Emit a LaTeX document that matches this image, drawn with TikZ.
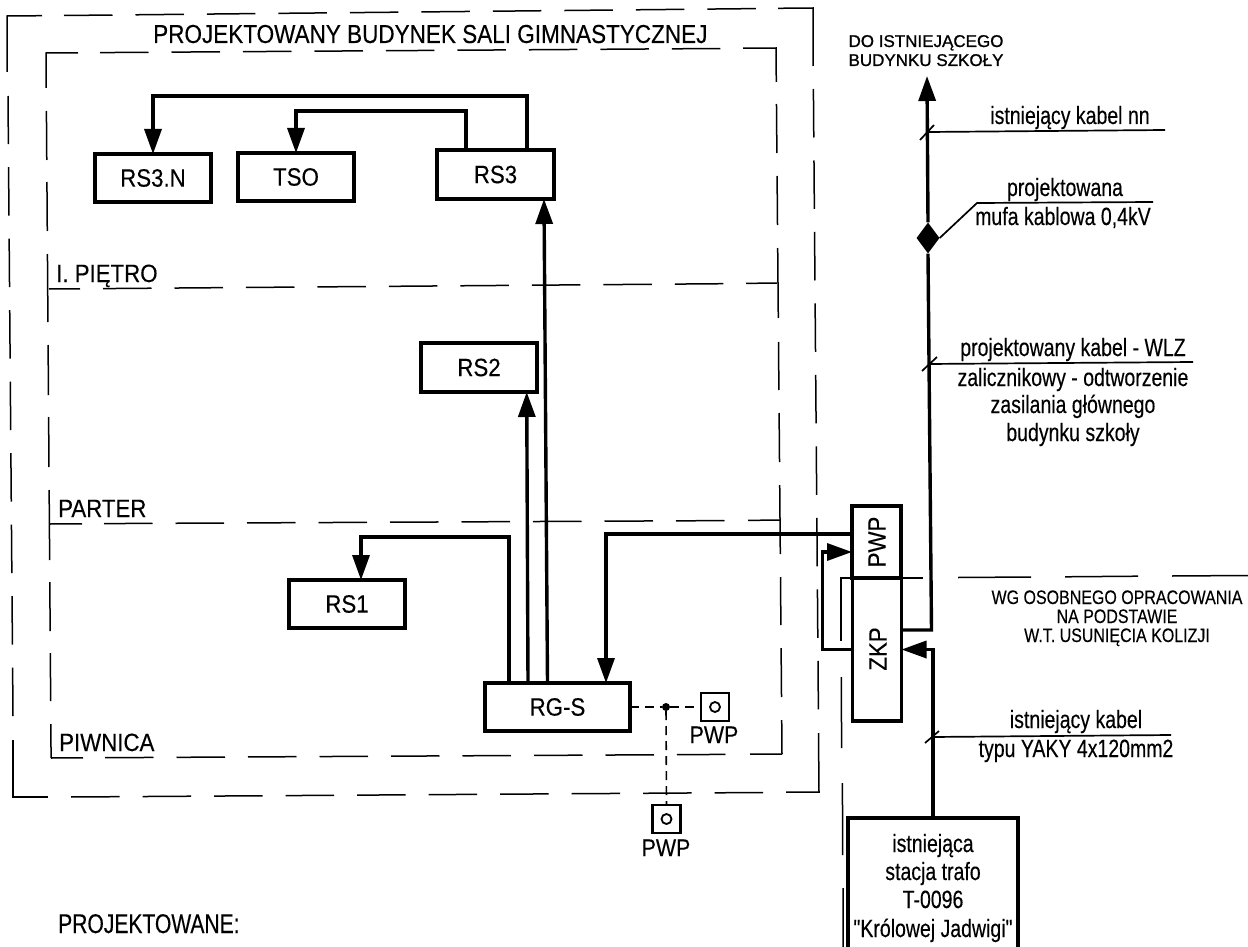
\documentclass[tikz,border=0pt]{standalone}
\usepackage{fontspec}
\usetikzlibrary{arrows.meta,shapes.geometric}
\newfontfamily\cad[FakeStretch=0.89,FakeBold=0.25]{Liberation Sans}
\newfontfamily\cadT[FakeStretch=0.866,FakeBold=0.25]{Liberation Sans}
\newfontfamily\cadL[FakeStretch=0.78,FakeBold=0.25]{Liberation Sans}
\newfontfamily\cadS[FakeStretch=0.82,FakeBold=0.25]{Liberation Sans}
\newfontfamily\cadD[FakeBold=1.0]{Liberation Sans}
\tikzset{
  x=1pt,y=-1pt,
  boxn/.style={draw,line width=3.1pt,rectangle,inner sep=0pt,outer sep=0pt,font=\cad\fontsize{25}{25}\selectfont},
  wire/.style={line width=3.4pt,line join=miter},
  tipa/.style={-{Triangle[length=25pt,width=17pt]}},
  fr/.style={line width=1.5pt},
  frd/.style={line width=1.5pt,dash pattern=on 48.5pt off 23pt},
  lead/.style={line width=1.7pt},
  txt/.style={inner sep=0pt,anchor=base,align=center,font=\cadL\fontsize{25}{25}\selectfont},
  captxt/.style={inner sep=0pt,anchor=base,font=\cad\fontsize{24}{24}\selectfont},
  txtl/.style={inner sep=0pt,anchor=base west,font=\cad\fontsize{25}{25}\selectfont},
  small/.style={inner sep=0pt,anchor=base,font=\cadS\fontsize{19.5}{19.5}\selectfont},
  tiny/.style={inner sep=0pt,anchor=base,font=\cadD\fontsize{17}{17}\selectfont},
  pwpb/.style={draw,line width=2.2pt,rectangle,inner sep=0pt,outer sep=0pt,minimum width=28pt,minimum height=28pt},
  ring/.style={draw,line width=1.8pt,circle,inner sep=0pt,minimum size=10pt},
  dotn/.style={fill,circle,inner sep=0pt,minimum size=8pt},
  lnk/.style={line width=1.6pt,dash pattern=on 9pt off 6pt}
}
\begin{document}
\begin{tikzpicture}
\useasboundingbox (0,0) rectangle (1248,947);
\clip (0,0) rectangle (1248,947);
% outer frame
\draw[fr] (7,72) -- (7,16) -- (42,15.7);
\draw[frd] (64,15.5) -- (756,8.6);
\draw[fr] (778,8.3) -- (813,8) -- (813.2,66);
\draw[frd] (813.4,89) -- (818.4,711);
\draw[fr] (818.5,733) -- (819,792) -- (786,792.2);
\draw[frd] (763,792.5) -- (70,797);
\draw[fr] (48,797) -- (13,797) -- (13,740);
\draw[frd] (13,716) -- (8,96);
% inner frame
\draw[fr] (46,88) -- (46,53) -- (78,52.8);
\draw[frd] (100,52.6) -- (721,48.5);
\draw[fr] (743,48.2) -- (776,48) -- (776.3,82);
\foreach \a/\b in {104/153,176/225,248/318,342/390,413/462,485/554,577/625,648/697,720/754}
  \draw[fr] ({776+0.0085*(\a-48)},\a) -- ({776+0.0085*(\b-48)},\b);
\foreach \a/\b in {111/160,182/231,254/322,345/395,417/467,490/560,582/631,653/701,724/758}
  \draw[fr] ({46+0.0072*(\a-53)},\a) -- ({46+0.0072*(\b-53)},\b);
% floors
\draw[fr] (49,289) -- (80,288.8);
\draw[frd] (103,288.6) -- (724,283.7);
\draw[fr] (746,283.4) -- (777,283);
\draw[fr] (50,524) -- (82,523.8);
\draw[frd] (104,523.6) -- (726,520.6);
\draw[fr] (748,520.4) -- (780,520);
\draw[fr] (51,758) -- (83,757.8);
\draw[frd] (105,757.7) -- (727,754.4);
\draw[fr] (750,754.2) -- (782,754);
% right boundary
\draw[fr] (841,641) -- (841,578) -- (923,578);
\draw[fr] (841.3,677) -- (841.6,748);
\draw[fr] (842.4,783) -- (842.7,855);
\draw[fr] (843,888) -- (843.2,947);
\draw[fr] (958,577.5) -- (1031,577);
\draw[fr] (1065,576.8) -- (1138,576.2);
\draw[fr] (1172,576) -- (1248,575.5);
% boxes
\node[boxn,minimum width=116pt,minimum height=48pt] (rs3n) at (153,178) {RS3.N};
\node[boxn,minimum width=116pt,minimum height=48pt] (tso) at (296,177) {TSO};
\node[boxn,minimum width=117pt,minimum height=49pt] (rs3) at (495.5,174.5) {RS3};
\node[boxn,minimum width=116pt,minimum height=49pt] (rs2) at (479,367.5) {RS2};
\node[boxn,minimum width=116pt,minimum height=48pt] (rs1) at (347,604) {RS1};
\node[boxn,minimum width=145pt,minimum height=48pt] (rgs) at (557.5,707) {RG-S};
\node[boxn,minimum width=49pt,minimum height=72pt] (pwp) at (876.5,542) {};
\node[boxn,minimum width=49pt,minimum height=143pt] (zkp) at (877,649.5) {};
\node[inner sep=0pt,rotate=90,font=\cad\fontsize{25}{25}\selectfont] (pwpt) at (877,542) {PWP};
\node[inner sep=0pt,rotate=90,font=\cad\fontsize{25}{25}\selectfont] (zkpt) at (878,649) {ZKP};
\node[boxn,minimum width=170pt,minimum height=140pt] (trafo) at (933,888) {};
% wires
\draw[wire,tipa] ([xshift=31.5pt]rs3.north) -- ++(0,-54) -| (rs3n.north);
\draw[wire,tipa] ([xshift=-29.5pt]rs3.north) -- ++(0,-39) -| (tso.north);
\draw[wire,tipa] ([xshift=-10pt]rgs.north) -- ([xshift=48.5pt]rs3.south);
\draw[wire,tipa] ([xshift=-29.5pt]rgs.north) -- ([xshift=47.7pt]rs2.south);
\draw[wire,tipa] ([xshift=-48.5pt]rgs.north) -- ++(0,-146) -| ([xshift=14pt]rs1.north);
\draw[wire,tipa] ([yshift=8pt]pwp.west) -| ([xshift=48.5pt]rgs.north);
\draw[wire,tipa] (zkp.west) -- ++(-30,0) |- ([yshift=-10pt]pwp.west);
\node[diamond,fill,aspect=0.73,inner sep=0pt,minimum width=23pt,minimum height=31pt] (muf) at (928,238) {};
\coordinate (top) at (927,76);
\draw[wire] ([yshift=19.5pt]zkp.east) -- ++(30,0) -- (muf.south);
\draw[wire,tipa] (muf.north) -- (top);
\draw[wire,tipa] (trafo.north) |- (zkp.east);
% PWP sockets
\node[pwpb] (s1) at (715,707) {};
\node[ring] (r1) at (s1.center) {};
\node[pwpb] (s2) at (666.5,819) {};
\node[ring] (r2) at (s2.center) {};
\node[dotn] (j) at (666,707) {};
\draw[lnk] (rgs.east) -- (j);
\draw[lnk] (j) -- (s1.west);
\draw[lnk] (j) -- (s2.north);
\node[captxt] (p1) at (714,743) {PWP};
\node[captxt] (p2) at (666,856) {PWP};
% leaders
\draw[lead] (928,132) -- (1165,130);
\draw[lead] (920,140) -- (934,125);
\draw[lead] (muf.east) -- (977,203) -- (1153,202);
\draw[lead] (928,364) -- (1193,362);
\draw[lead] (922,371) -- (937,357);
\draw[lead] (932,737) -- (1171,735);
\draw[lead] (925,743) -- (939,731);
% texts
\node[txtl,font=\cadT\fontsize{26}{26}\selectfont] (title) at (153,43) {PROJEKTOWANY BUDYNEK SALI GIMNASTYCZNEJ};
\node[txtl] (f1) at (56,282) {I. PIĘTRO};
\node[txtl] (f2) at (58,517) {PARTER};
\node[txtl] (f3) at (59,751) {PIWNICA};
\node[txtl,font=\cadL\fontsize{27}{27}\selectfont] (proj) at (58,933) {PROJEKTOWANE:};
\node[tiny] (d1) at (926,47) {DO ISTNIEJĄCEGO};
\node[tiny] (d2) at (926,66) {BUDYNKU SZKOŁY};
\node[txt] (a1) at (1070,124) {istniejący kabel nn};
\node[txt] (a2) at (1065,196) {projektowana};
\node[txt] (a3) at (1063,225) {mufa kablowa 0,4kV};
\node[txt] (a4) at (1073,356) {projektowany kabel - WLZ};
\node[txt] (a5) at (1073,386) {zalicznikowy - odtworzenie};
\node[txt] (a6) at (1073,413) {zasilania głównego};
\node[txt] (a7) at (1073,441) {budynku szkoły};
\node[small] (w1) at (1117,604) {WG OSOBNEGO OPRACOWANIA};
\node[small] (w2) at (1117,623) {NA PODSTAWIE};
\node[small] (w3) at (1117,642) {W.T. USUNIĘCIA KOLIZJI};
\node[txt] (a8) at (1076,728) {istniejący kabel};
\node[txt] (a9) at (1076,757) {typu YAKY 4x120mm2};
\node[txt] (t1) at (933,852) {istniejąca};
\node[txt] (t2) at (933,880) {stacja trafo};
\node[txt] (t3) at (933,908) {T-0096};
\node[txt] (t4) at (933,937) {"Królowej Jadwigi"};
\end{tikzpicture}
\end{document}
